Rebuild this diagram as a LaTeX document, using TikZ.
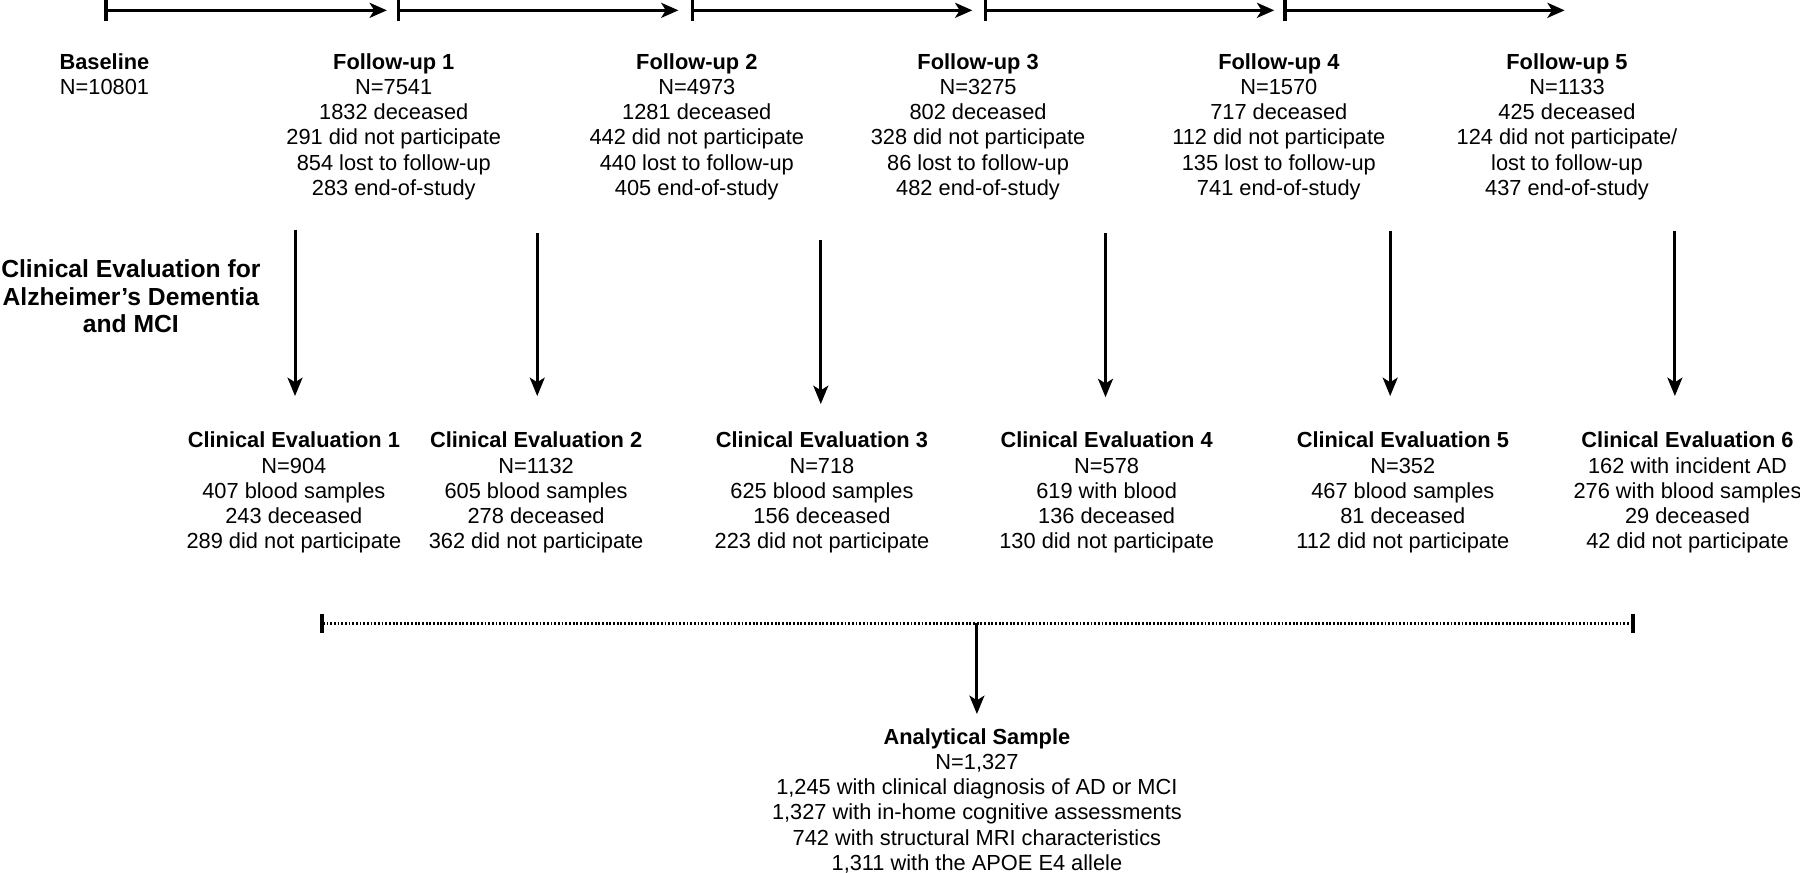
\documentclass[tikz,border=0pt]{standalone}
\usepackage{fontspec}
\setmainfont{Liberation Sans}
\usetikzlibrary{arrows.meta}
\begin{document}
\begin{tikzpicture}[x=1pt,y=-1pt,
  txt/.style={align=center, inner sep=0pt, anchor=north, font=\fontsize{19}{22}\selectfont},
  lbl/.style={align=center, inner sep=0pt, anchor=north, font=\bfseries\fontsize{21.5}{24}\selectfont},
  arr/.style={line width=2.6pt, -{Stealth[length=16pt,width=13pt,inset=4pt]}},
  tline/.style={line width=2.8pt, {Bar[width=18pt]}-{Stealth[length=15pt,width=13pt,inset=4pt]}},
  dotline/.style={line width=2.6pt, dash pattern=on 1.6pt off 1.6pt, {Bar[width=16pt,line width=3pt]}-{Bar[width=16pt,line width=3pt]}}
]
\useasboundingbox (0,0) rectangle (1568,760);

% timeline
\coordinate (s0) at (91,9);   \coordinate (e0) at (337,9);
\coordinate (s1) at (346,9);  \coordinate (e1) at (591,9);
\coordinate (s2) at (602,9);  \coordinate (e2) at (847,9);
\coordinate (s3) at (857,9);  \coordinate (e3) at (1110,9);
\coordinate (s4) at (1118,9); \coordinate (e4) at (1363,9);
\draw[tline] (s0) -- (e0);
\draw[tline] (s1) -- (e1);
\draw[tline] (s2) -- (e2);
\draw[tline] (s3) -- (e3);
\draw[tline] (s4) -- (e4);

% follow-up texts
\node[txt] (bl) at (91,44.6) {\strut\textbf{Baseline}\\N=10801};
\node[txt] (fu1) at (343,44.6) {\strut\textbf{Follow-up 1}\\N=7541\\1832 deceased\\291 did not participate\\854 lost to follow-up\\283 end-of-study};
\node[txt] (fu2) at (607,44.6) {\strut\textbf{Follow-up 2}\\N=4973\\1281 deceased\\442 did not participate\\440 lost to follow-up\\405 end-of-study};
\node[txt] (fu3) at (852,44.6) {\strut\textbf{Follow-up 3}\\N=3275\\802 deceased\\328 did not participate\\86 lost to follow-up\\482 end-of-study};
\node[txt] (fu4) at (1114,44.6) {\strut\textbf{Follow-up 4}\\N=1570\\717 deceased\\112 did not participate\\135 lost to follow-up\\741 end-of-study};
\node[txt] (fu5) at (1365,44.6) {\strut\textbf{Follow-up 5}\\N=1133\\425 deceased\\124 did not participate/\\lost to follow-up\\437 end-of-study};

% left label
\node[lbl] (lab) at (114,225) {\strut Clinical Evaluation for\\Alzheimer’s Dementia\\and MCI};

% clinical evaluations
\node[txt] (ce1) at (256,374.6) {\strut\textbf{Clinical Evaluation 1}\\N=904\\407 blood samples\\243 deceased\\289 did not participate};
\node[txt] (ce2) at (467,374.6) {\strut\textbf{Clinical Evaluation 2}\\N=1132\\605 blood samples\\278 deceased\\362 did not participate};
\node[txt] (ce3) at (716,374.6) {\strut\textbf{Clinical Evaluation 3}\\N=718\\625 blood samples\\156 deceased\\223 did not participate};
\node[txt] (ce4) at (964,374.6) {\strut\textbf{Clinical Evaluation 4}\\N=578\\619 with blood\\136 deceased\\130 did not participate};
\node[txt] (ce5) at (1222,374.6) {\strut\textbf{Clinical Evaluation 5}\\N=352\\467 blood samples\\81 deceased\\112 did not participate};
\node[txt] (ce6) at (1470,374.6) {\strut\textbf{Clinical Evaluation 6}\\162 with incident AD\\276 with blood samples\\29 deceased\\42 did not participate};

% vertical arrows
\coordinate (v1) at (257,200);
\coordinate (v2) at (468,203);
\coordinate (v3) at (715,209);
\coordinate (v4) at (963,203);
\coordinate (v5) at (1211,201);
\coordinate (v6) at (1459,201);
\draw[arr, shorten >=29.6pt] (v1) -- (v1 |- ce1.north);
\draw[arr, shorten >=29.6pt] (v2) -- (v2 |- ce2.north);
\draw[arr, shorten >=22.6pt] (v3) -- (v3 |- ce3.north);
\draw[arr, shorten >=28.6pt] (v4) -- (v4 |- ce4.north);
\draw[arr, shorten >=29.6pt] (v5) -- (v5 |- ce5.north);
\draw[arr, shorten >=29.6pt] (v6) -- (v6 |- ce6.north);

% dotted line and analytical sample
\coordinate (dl) at (279,543);
\coordinate (dr) at (1424,543);
\coordinate (dm) at (851,543);
\draw[dotline] (dl) -- (dr);
\node[txt] (an) at (851,632.6) {\strut\textbf{Analytical Sample}\\N=1,327\\1,245 with clinical diagnosis of AD or MCI\\1,327 with in-home cognitive assessments\\742 with structural MRI characteristics\\1,311 with the APOE E4 allele};
\draw[arr, shorten >=10.6pt] (dm) -- (an.north);
\end{tikzpicture}
\end{document}
